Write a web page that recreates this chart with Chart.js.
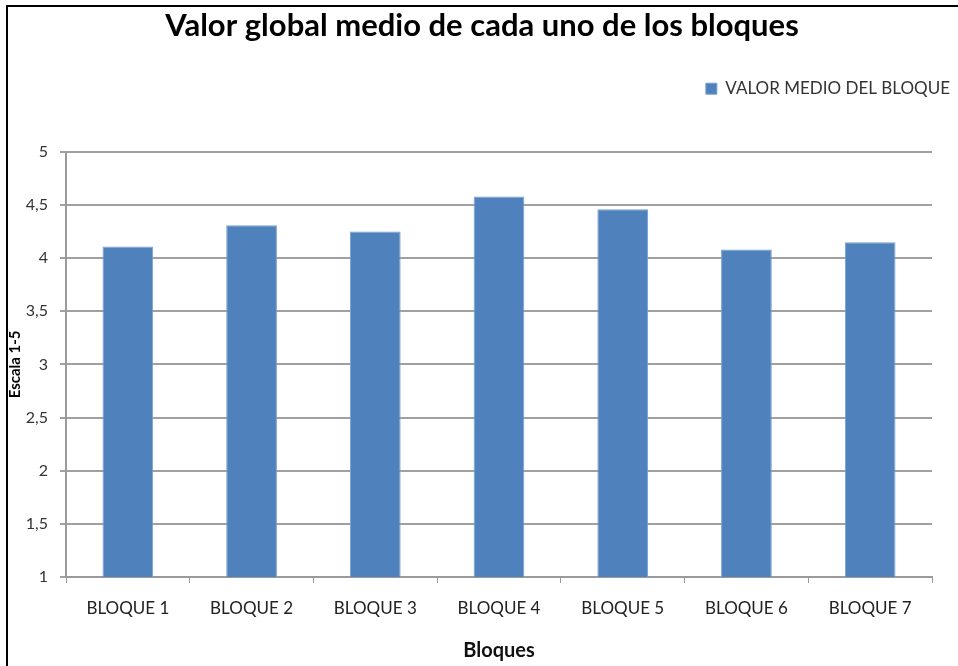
<!DOCTYPE html>
<html>
<head>
<meta charset="utf-8">
<script src="https://cdn.jsdelivr.net/npm/chart.js@4/dist/chart.umd.min.js"></script>
<style>
  html, body { margin: 0; padding: 0; background: #fff; }
  #wrap { position: relative; width: 958px; height: 666px; }
  #frame { position: absolute; left: 6px; top: 5px; right: 0; bottom: 0;
           border-left: 2px solid #000; border-top: 2px solid #000; pointer-events: none; }
</style>
</head>
<body>
<div id="wrap">
  <canvas id="c" width="958" height="666"></canvas>
  <div id="frame"></div>
</div>
<script>
const categories = ['BLOQUE 1', 'BLOQUE 2', 'BLOQUE 3', 'BLOQUE 4', 'BLOQUE 5', 'BLOQUE 6', 'BLOQUE 7'];
const seriesName = 'VALOR MEDIO DEL BLOQUE';
const values = [4.11, 4.31, 4.25, 4.58, 4.46, 4.08, 4.15];
const yMin = 1, yMax = 5, yStep = 0.5;

const FONT = 'Lato, "Open Sans", sans-serif';

new Chart(document.getElementById('c'), {
  type: 'bar',
  data: {
    labels: categories,
    datasets: [{
      label: seriesName,
      data: values,
      backgroundColor: '#4f81bd',
      borderColor: '#7a9fd0',
      borderWidth: 1,
      barPercentage: 0.41,
      categoryPercentage: 1.0,
      xAxisID: 'x',
      yAxisID: 'y'
    }]
  },
  options: {
    responsive: false,
    animation: false,
    devicePixelRatio: 1,
    layout: { padding: { left: 6, right: 0, top: 0, bottom: 0 } },
    plugins: {
      title: {
        display: true,
        text: 'Valor global medio de cada uno de los bloques',
        color: '#000',
        font: { family: FONT, size: 31, weight: 'bold' },
        padding: { top: 7, bottom: 28 }
      },
      legend: {
        display: true,
        position: 'top',
        align: 'end',
        labels: {
          color: '#333',
          font: { family: FONT, size: 17 },
          boxWidth: 11,
          boxHeight: 11,
          padding: 8
        }
      },
      tooltip: { enabled: false }
    },
    scales: {
      x: {
        position: 'bottom',
        grid: { display: true, drawOnChartArea: false, offset: true, color: '#9a9a9a', lineWidth: 1, tickLength: 6 },
        border: { display: true, color: '#9a9a9a', width: 2 },
        ticks: { color: '#222', font: { family: FONT, size: 17 }, padding: 15, maxRotation: 0 },
        title: { display: true, text: 'Bloques', color: '#111', font: { family: FONT, size: 20, weight: 'bold' }, padding: { top: 10, bottom: 3 } },
        afterFit: (s) => { s.height = 89; }
      },
      xTop: {
        type: 'category',
        position: 'top',
        display: true,
        grid: { display: false },
        border: { display: false },
        ticks: { display: false },
        afterFit: (s) => { s.height = 44.6; }
      },
      y: {
        position: 'left',
        min: yMin,
        max: yMax,
        grid: { color: '#a0a0a0', lineWidth: 2, tickLength: 6 },
        border: { display: true, color: '#9a9a9a', width: 2 },
        ticks: {
          stepSize: yStep,
          color: '#333',
          font: { family: FONT, size: 16 },
          padding: 12,
          callback: (v) => String(v).replace('.', ',')
        },
        title: { display: true, text: 'Escala 1-5', color: '#000', font: { family: FONT, size: 15, weight: 'bold' }, padding: { top: 0, bottom: 0 } },
        afterFit: (s) => { s.width = 60; }
      },
      yRight: {
        type: 'linear',
        position: 'right',
        display: true,
        grid: { display: false, drawOnChartArea: false },
        border: { display: false },
        ticks: { display: false },
        afterFit: (s) => { s.width = 26; }
      }
    }
  }
});
</script>
</body>
</html>
